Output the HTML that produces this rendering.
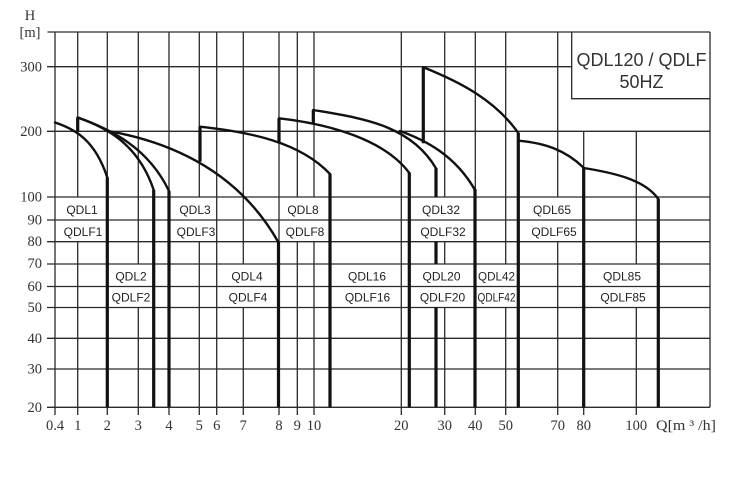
<!DOCTYPE html>
<html><head><meta charset="utf-8"><style>
html,body{margin:0;padding:0;background:#fff;}
svg{display:block;}
.g{stroke:#2a2a2a;stroke-width:1.3;fill:none;}
.c{stroke:#111;stroke-width:2.4;fill:none;stroke-linejoin:round;stroke-linecap:round;}
.t{stroke:#111;stroke-width:3.2;fill:none;}
.ax{font-family:"Liberation Serif",serif;font-size:14.5px;fill:#333;}
.lb{font-family:"Liberation Sans",sans-serif;font-size:12px;fill:#222;text-anchor:middle;}
</style></head><body>
<svg width="736" height="500" viewBox="0 0 736 500" xmlns="http://www.w3.org/2000/svg">
<rect width="736" height="500" fill="#fff"/>
<!-- vertical grid -->
<g class="g">
<path d="M55,32V415"/>
<path d="M77.7,32V197M77.7,241.7V415"/>
<path d="M107.3,32V415"/>
<path d="M138.3,32V264M138.3,307.5V415"/>
<path d="M169,32V415"/>
<path d="M199.3,32V197M199.3,241.7V415"/>
<path d="M216.7,32V415"/>
<path d="M243.3,32V264M243.3,307.5V415"/>
<path d="M279,32V415"/>
<path d="M297.3,32V197M297.3,241.7V415"/>
<path d="M314,32V197M314,241.7V415"/>
<path d="M401.3,32V415"/>
<path d="M444.7,32V197M444.7,241.7V264M444.7,307.5V415"/>
<path d="M475.3,32V415"/>
<path d="M505.7,32V264M505.7,307.5V415"/>
<path d="M557.7,32V197M557.7,241.7V415"/>
<path d="M583.7,131.3V415"/>
<path d="M636.3,131.3V264M636.3,307.5V415"/>
<path d="M710,32V407.3"/>
</g>
<!-- horizontal grid -->
<g class="g">
<path d="M47.5,32H710"/>
<path d="M47,66.7H571.7"/>
<path d="M47,131.3H710"/>
<path d="M47,197H710"/>
<path d="M47,220H710"/>
<path d="M47,241.7H710"/>
<path d="M47,264H710"/>
<path d="M47,286.5H710"/>
<path d="M47,307.5H710"/>
<path d="M47,338.3H710"/>
<path d="M47,369H710"/>
<path d="M47,407.3H710"/>
<path d="M571.7,32V98.7H710"/>
</g>
<!-- thick vertical markers -->
<g class="t">
<path d="M107.3,177.5V407.3"/>
<path d="M153.7,190V407.3"/>
<path d="M169,191V407.3"/>
<path d="M278.5,242.5V407.3"/>
<path d="M330,174V407.3"/>
<path d="M409.3,172.5V407.3"/>
<path d="M436,168V197M436,241.7V264M436,307.5V407.3"/>
<path d="M475,189V407.3"/>
<path d="M518.3,133V407.3"/>
<path d="M583.7,167.7V407.3"/>
<path d="M658.3,199V407.3"/>
<path d="M77.7,117.5V132"/>
<path d="M200,126.7V161.7"/>
<path d="M279,118.3V142.7"/>
<path d="M313.3,110V123.3"/>
<path d="M423.3,67.3V143.3"/>
</g>
<!-- curves -->
<g class="c">
<path d="M55,122.5 C75,129 95,140 107.3,177.5"/>
<path d="M77.7,117.5 C105,127 138,143 153.7,190"/>
<path d="M77.7,117.5 C110,129 148,147 169,191"/>
<path d="M108,131 C160,140 235,165 278.5,242.5"/>
<path d="M200,126.7 C250,132 300,142 330,174"/>
<path d="M279,118.3 C330,124 385,140 409.3,173"/>
<path d="M313.3,110 C360,118 410,124 436,168.3"/>
<path d="M400,131 C425,140 455,155 475,190"/>
<path d="M423.3,67.3 C460,82 495,100 518.3,133"/>
<path d="M518.3,140.7 C545,143 565,150 583.7,167.7"/>
<path d="M583.7,168 C615,173 645,180 658.3,199"/>
</g>
<!-- axis labels -->
<g class="ax">
<text x="30" y="20" text-anchor="middle">H</text>
<text x="30" y="37" text-anchor="middle">[m]</text>
<g text-anchor="end">
<text x="42" y="71.5">300</text>
<text x="42" y="136">200</text>
<text x="42" y="201.5">100</text>
<text x="42" y="224.5">90</text>
<text x="42" y="246">80</text>
<text x="42" y="268">70</text>
<text x="42" y="291">60</text>
<text x="42" y="312">50</text>
<text x="42" y="343">40</text>
<text x="42" y="373.5">30</text>
<text x="42" y="412">20</text>
</g>
<g text-anchor="middle">
<text x="55" y="430">0.4</text>
<text x="77.7" y="430">1</text>
<text x="107.3" y="430">2</text>
<text x="138.3" y="430">3</text>
<text x="169" y="430">4</text>
<text x="199.3" y="430">5</text>
<text x="216.7" y="430">6</text>
<text x="243.3" y="430">7</text>
<text x="279" y="430">8</text>
<text x="297.3" y="430">9</text>
<text x="314" y="430">10</text>
<text x="401.3" y="430">20</text>
<text x="444.7" y="430">30</text>
<text x="475.3" y="430">40</text>
<text x="505.7" y="430">50</text>
<text x="557.7" y="430">70</text>
<text x="583.7" y="430">80</text>
<text x="636.3" y="430">100</text>
</g>
<text x="656" y="430" textLength="60" lengthAdjust="spacingAndGlyphs">Q[m ³ /h]</text>
</g>
<!-- series labels -->
<g class="lb">
<text x="82" y="214">QDL1</text>
<text x="83" y="236">QDLF1</text>
<text x="131" y="280.5">QDL2</text>
<text x="131" y="301.5">QDLF2</text>
<text x="195" y="214">QDL3</text>
<text x="196" y="236">QDLF3</text>
<text x="247" y="280.5">QDL4</text>
<text x="248" y="301.5">QDLF4</text>
<text x="303" y="214">QDL8</text>
<text x="305" y="236">QDLF8</text>
<text x="367" y="280.5">QDL16</text>
<text x="367.5" y="301.5">QDLF16</text>
<text x="441" y="214">QDL32</text>
<text x="443" y="236">QDLF32</text>
<text x="441.5" y="280.5">QDL20</text>
<text x="442.5" y="301.5">QDLF20</text>
<text x="496.5" y="280.5" textLength="37" lengthAdjust="spacingAndGlyphs">QDL42</text>
<text x="496.5" y="301.5" textLength="38" lengthAdjust="spacingAndGlyphs">QDLF42</text>
<text x="552" y="214">QDL65</text>
<text x="554" y="236">QDLF65</text>
<text x="622" y="280.5">QDL85</text>
<text x="623" y="301.5">QDLF85</text>
</g>
<g font-family="'Liberation Sans',sans-serif" font-size="18" fill="#333" text-anchor="middle">
<text x="641.5" y="66">QDL120 / QDLF</text>
<text x="641.5" y="88">50HZ</text>
</g>
</svg>
</body></html>
